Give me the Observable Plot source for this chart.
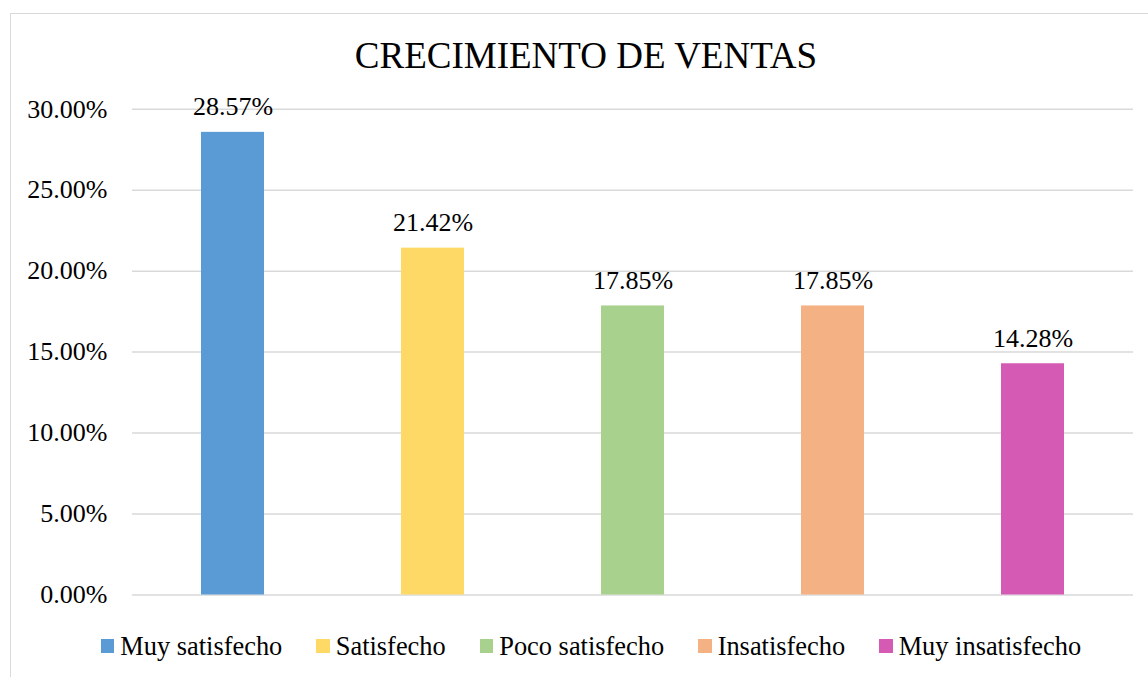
<!DOCTYPE html>
<html>
<head>
<meta charset="utf-8">
<script src="https://cdn.jsdelivr.net/npm/d3@7"></script>
<script src="https://cdn.jsdelivr.net/npm/@observablehq/plot@0.6"></script>
<style>
  html, body { margin: 0; padding: 0; background: #fff; overflow: hidden; }
  #wrap { position: relative; width: 1148px; height: 677px; font-family: "Liberation Serif", "Times New Roman", serif; color: #000; }
  #frame { position: absolute; left: 10px; top: 13px; width: 1200px; height: 800px; border-left: 1.5px solid #d9d9d9; border-top: 1.5px solid #d9d9d9; box-sizing: border-box; }
  #title { position: relative; width: 1172px; height: 97px; text-align: center; font-size: 37px; line-height: 37px; padding-top: 37px; box-sizing: border-box; white-space: nowrap; }
  #chart { position: relative; display: block; height: 523px; }
  #legend { position: relative; width: 1182px; display: flex; justify-content: center; align-items: center; font-size: 26.4px; line-height: 26px; margin-top: 13px; }
  .item { display: flex; align-items: center; margin: 0 17px; }
  .sw { width: 13.5px; height: 13.5px; margin-right: 6px; }
</style>
</head>
<body>
<div id="wrap">
  <div id="frame"></div>
  <div id="title">CRECIMIENTO DE VENTAS</div>
  <div id="chart"></div>
  <div id="legend"></div>
</div>
<script>
const categories = ["Muy satisfecho", "Satisfecho", "Poco satisfecho", "Insatisfecho", "Muy insatisfecho"];
const values = [28.57, 21.42, 17.85, 17.85, 14.28];
const labels = ["28.57%", "21.42%", "17.85%", "17.85%", "14.28%"];
const colors = ["#5B9BD5", "#FFD966", "#A9D18E", "#F4B183", "#D55AB3"];
const yTicks = [0, 5, 10, 15, 20, 25, 30];

const data = categories.map((c, i) => ({ cat: c, value: values[i], label: labels[i] }));

const plot = Plot.plot({
  width: 1148,
  height: 523,
  marginLeft: 132,
  marginRight: 15,
  marginTop: 11.7,
  marginBottom: 25.5,
  style: { fontFamily: "Liberation Serif, Times New Roman, serif", fontSize: "26px", color: "#000", background: "transparent", overflow: "visible" },
  x: { domain: categories, paddingInner: 0.685, paddingOuter: 0.3425, axis: null },
  y: { domain: [0, 30], ticks: yTicks },
  color: { domain: categories, range: colors },
  marks: [
    Plot.ruleY(yTicks, { stroke: "#d9d9d9", strokeWidth: 1.5 }),
    Plot.barY(data, { x: "cat", y: "value", fill: "cat" }),
    Plot.text(data, { x: "cat", y: "value", text: "label", lineAnchor: "bottom", dy: -17, fontSize: 26, fill: "#000" }),
    Plot.axisY(yTicks, { tickSize: 0, tickPadding: 25, label: null, tickFormat: d => d.toFixed(2) + "%", fontSize: 26, fill: "#000" })
  ]
});
document.getElementById("chart").appendChild(plot);

const legend = document.getElementById("legend");
categories.forEach((c, i) => {
  const item = document.createElement("div");
  item.className = "item";
  const sw = document.createElement("div");
  sw.className = "sw";
  sw.style.background = colors[i];
  const t = document.createElement("span");
  t.textContent = c;
  item.appendChild(sw);
  item.appendChild(t);
  legend.appendChild(item);
});
</script>
</body>
</html>
